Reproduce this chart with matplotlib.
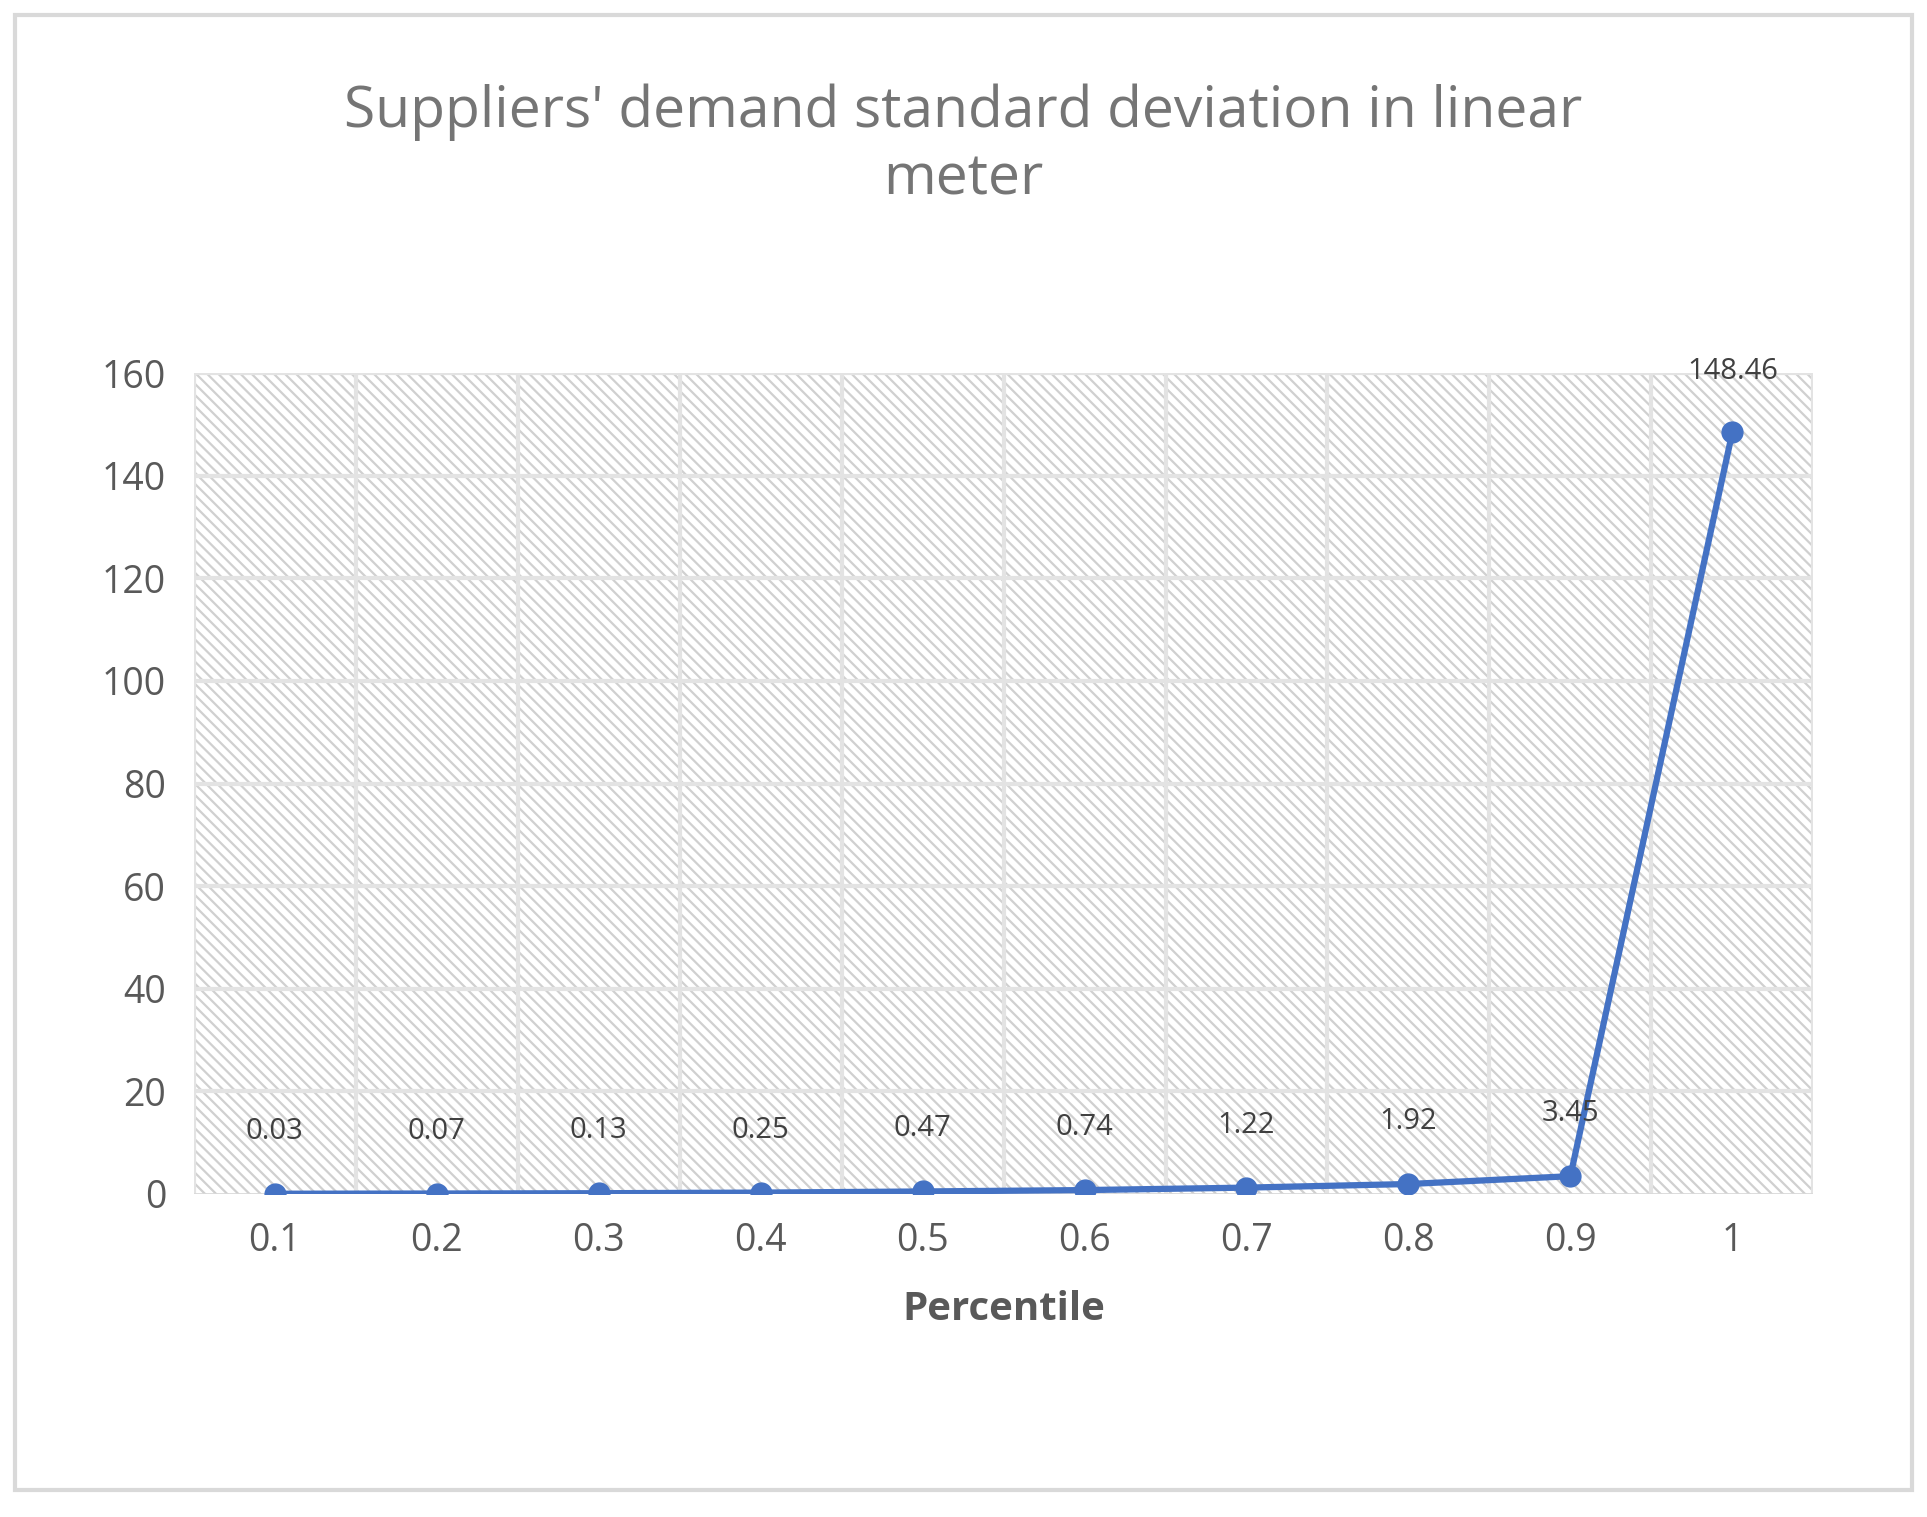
import matplotlib.pyplot as plt
from matplotlib.patches import Rectangle

percentiles = ['0.1', '0.2', '0.3', '0.4', '0.5', '0.6', '0.7', '0.8', '0.9', '1']
std_dev = [0.03, 0.07, 0.13, 0.25, 0.47, 0.74, 1.22, 1.92, 3.45, 148.46]
yticks = [0, 20, 40, 60, 80, 100, 120, 140, 160]

plt.rcParams['font.family'] = ['Open Sans', 'DejaVu Sans']
plt.rcParams['hatch.color'] = '#d0d0d0'
plt.rcParams['hatch.linewidth'] = 1.6

fig = plt.figure(figsize=(19.27, 15.17), dpi=100)
fig.patches.append(Rectangle((0.008, 0.018), 0.984, 0.972, transform=fig.transFigure,
                             fill=False, edgecolor='#d9d9d9', linewidth=3))
ax = fig.add_axes([0.1006, 0.213, 0.8404, 0.541])

x = list(range(len(percentiles)))
ax.add_patch(Rectangle((-0.5, 0), 10, 160, facecolor='white', hatch='\\\\\\',
                       edgecolor='#d0d0d0', linewidth=0, zorder=0))
for yv in yticks[1:]:
    ax.axhline(yv, color='#e3e3e3', linewidth=3, zorder=1)
for xv in range(len(percentiles) + 1):
    ax.axvline(xv - 0.5, color='#e3e3e3', linewidth=3, zorder=1)
ax.axhline(0, color='#d9d9d9', linewidth=2, zorder=2)

ax.plot(x, std_dev, '-o', color='#4472c4', linewidth=4.5, markersize=15, zorder=3)
for xi, v in zip(x, std_dev):
    ax.annotate(f'{v:.2f}', (xi, v), xytext=(0, 45 if v < 100 else 44),
                textcoords='offset points', ha='center', va='center',
                fontsize=21, color='#404040', zorder=4)

ax.set_xlim(-0.5, 9.5)
ax.set_ylim(0, 160)
ax.set_yticks(yticks)
ax.set_xticks(x)
ax.set_xticklabels(percentiles)
ax.tick_params(length=0, labelsize=27, labelcolor='#595959', pad=20)
for s in ax.spines.values():
    s.set_visible(False)
ax.set_xlabel('Percentile', fontsize=29, fontweight='bold', color='#595959', labelpad=22)
fig.suptitle("Suppliers' demand standard deviation in linear\nmeter", y=0.945,
             fontsize=41, color='#757575', linespacing=1.25)

fig.savefig('out.png', dpi=100)
